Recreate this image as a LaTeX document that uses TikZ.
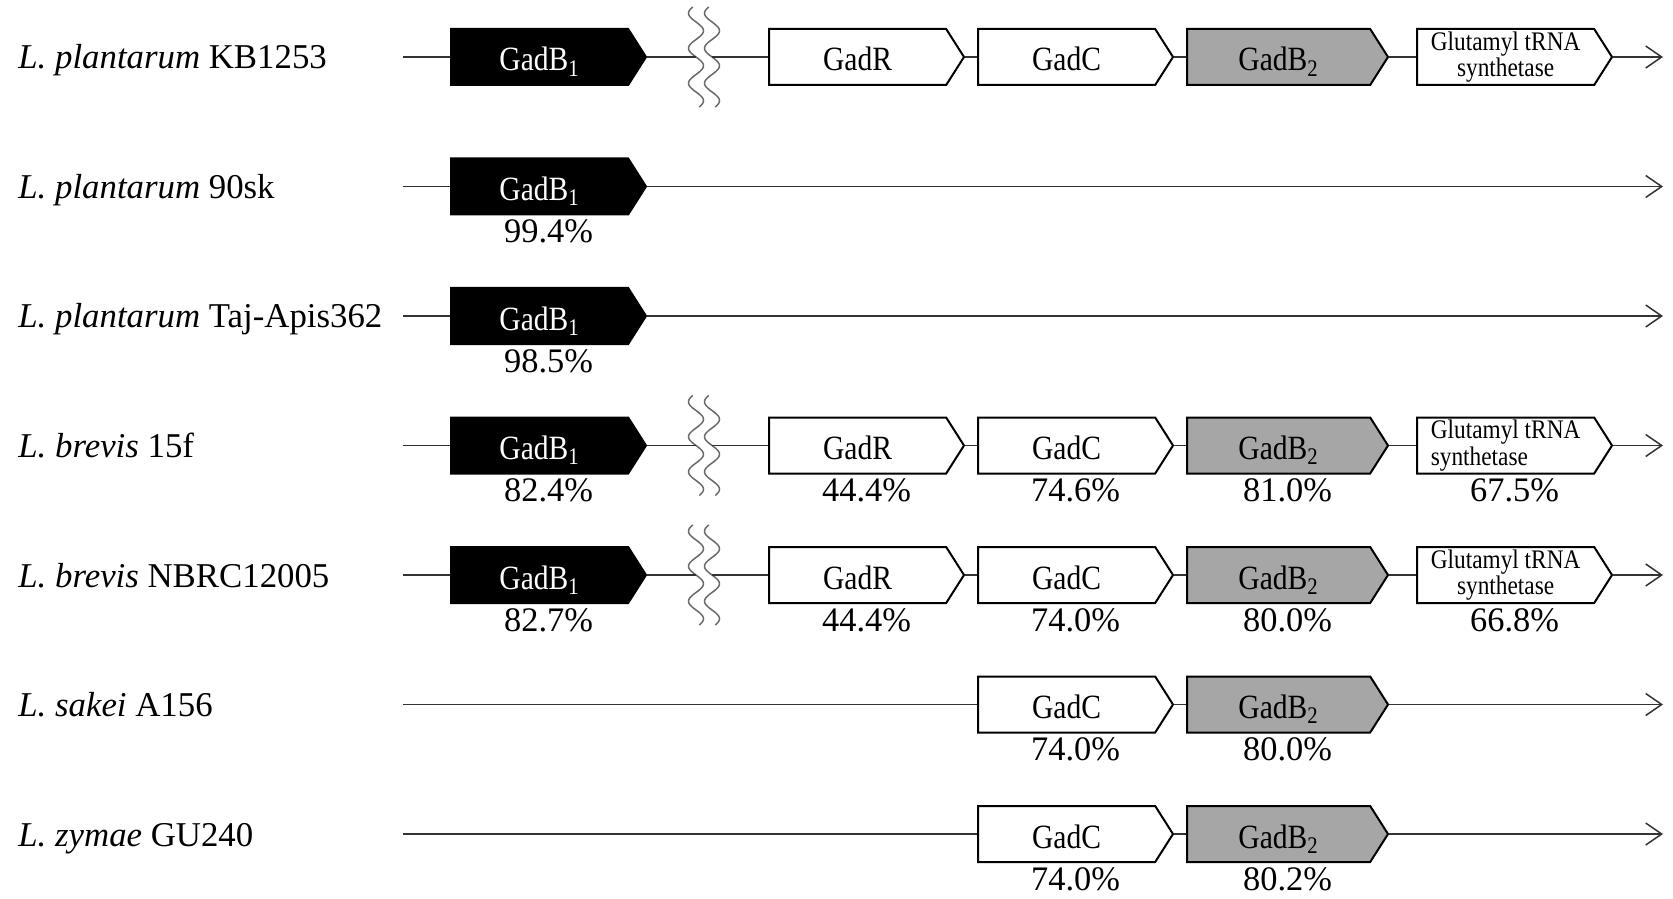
\documentclass[tikz,border=0pt]{standalone}
\usepackage{fontspec}
\setmainfont{Liberation Serif}
\newfontfamily\genefont[FakeStretch=0.87]{Liberation Serif}
\usepackage{tikz}
\usetikzlibrary{calc}
\usetikzlibrary{shapes.symbols}
\usetikzlibrary{arrows.meta}
\usetikzlibrary{positioning}

\definecolor{genegray}{RGB}{166,166,166}
\definecolor{breakgray}{RGB}{105,105,105}

\tikzset{
    genebox/.style={signal, signal to=east, signal from=nowhere, signal pointer angle=115,
        draw=black, line width=1pt, inner sep=0pt, minimum width=97.5pt, minimum height=28pt,
        anchor=west},
    gene/.style={genebox, text height=14pt, text depth=0pt, font=\genefont\fontsize{17}{17}\selectfont},
    genea/.style={gene, fill=black, text=white},
    geneb/.style={gene, fill=genegray, minimum width=100.5pt},
    genew/.style={gene, fill=white},
    glut/.style={genebox, fill=white, align=center, font=\genefont\fontsize{13.4}{10.5}\selectfont},
    strain/.style={anchor=base west, inner sep=0pt, font=\fontsize{17.4}{20}\selectfont},
    pct/.style={anchor=base, inner sep=0pt, font=\fontsize{17.2}{20}\selectfont},
    dnaline/.style={draw=black!80, line width=0.75pt},
    dnaend/.style={dnaline, -{Straight Barb[length=8pt,width=11pt]}}
}

\newcommand{\genebreak}[2]{%
    \foreach \dx in {696,712}
        \draw[breakgray, line width=0.75pt, domain=-50:50, samples=80, smooth, variable=\t]
            plot ({\dx+7.5*sin(\t*10.286)}, {#2+\t});
    \coordinate (#1l) at (696,#2);
    \coordinate (#1r) at (712,#2);
}

\begin{document}
\begin{tikzpicture}[x=0.5pt, y=-0.5pt]
            \useasboundingbox (0,0) rectangle (1673,898);

            % KB1253
            \node[strain] (n1) at (18,69) {\textit{L. plantarum} KB1253};
            \coordinate (s1) at (403,57);
            \coordinate (e1) at (1663,57);
            \node[genea] (a1) at (450,57) {GadB\textsubscript{1}};
            \genebreak{k1}{57}
            \node[genew] (r1) at (768,57) {GadR};
            \node[genew] (c1) at (977,57) {GadC};
            \node[geneb] (b1) at (1186,57) {GadB\textsubscript{2}};
            \node[glut] (t1) at (1416,57) {Glutamyl tRNA\\synthetase};
            \draw[dnaline] (s1) -- (a1.west) (a1.east) -- (k1l) (k1r) -- (r1.west)
                (r1.east) -- (c1.west) (c1.east) -- (b1.west) (b1.east) -- (t1.west);
            \draw[dnaend] (t1.east) -- (e1);

            % 90sk
            \node[strain] (n2) at (18,198.5) {\textit{L. plantarum} 90sk};
            \coordinate (s2) at (403,186.5);
            \coordinate (e2) at (1663,186.5);
            \node[genea] (a2) at (450,186.5) {GadB\textsubscript{1}};
            \node[pct] (p2a) at ($(a2.west)!.5!(a2.east)+(0,56)$) {99.4\%};
            \draw[dnaline] (s2) -- (a2.west);
            \draw[dnaend] (a2.east) -- (e2);

            % Taj-Apis362
            \node[strain] (n3) at (18,328) {\textit{L. plantarum} Taj-Apis362};
            \coordinate (s3) at (403,316);
            \coordinate (e3) at (1663,316);
            \node[genea] (a3) at (450,316) {GadB\textsubscript{1}};
            \node[pct] (p3a) at ($(a3.west)!.5!(a3.east)+(0,56)$) {98.5\%};
            \draw[dnaline] (s3) -- (a3.west);
            \draw[dnaend] (a3.east) -- (e3);

            % 15f
            \node[strain] (n4) at (18,457.5) {\textit{L. brevis} 15f};
            \coordinate (s4) at (403,445.5);
            \coordinate (e4) at (1663,445.5);
            \node[genea] (a4) at (450,445.5) {GadB\textsubscript{1}};
            \genebreak{k4}{445.5}
            \node[genew] (r4) at (768,445.5) {GadR};
            \node[genew] (c4) at (977,445.5) {GadC};
            \node[geneb] (b4) at (1186,445.5) {GadB\textsubscript{2}};
            \node[glut, align=left] (t4) at (1416,445.5) {Glutamyl tRNA\\synthetase};
            \node[pct] (p4a) at ($(a4.west)!.5!(a4.east)+(0,56)$) {82.4\%};
            \node[pct] (p4r) at ($(r4.west)!.5!(r4.east)+(0,56)$) {44.4\%};
            \node[pct] (p4c) at ($(c4.west)!.5!(c4.east)+(0,56)$) {74.6\%};
            \node[pct] (p4b) at ($(b4.west)!.5!(b4.east)+(0,56)$) {81.0\%};
            \node[pct] (p4t) at ($(t4.west)!.5!(t4.east)+(0,56)$) {67.5\%};
            \draw[dnaline] (s4) -- (a4.west) (a4.east) -- (k4l) (k4r) -- (r4.west)
                (r4.east) -- (c4.west) (c4.east) -- (b4.west) (b4.east) -- (t4.west);
            \draw[dnaend] (t4.east) -- (e4);

            % NBRC12005
            \node[strain] (n5) at (18,587) {\textit{L. brevis} NBRC12005};
            \coordinate (s5) at (403,575);
            \coordinate (e5) at (1663,575);
            \node[genea] (a5) at (450,575) {GadB\textsubscript{1}};
            \genebreak{k5}{575}
            \node[genew] (r5) at (768,575) {GadR};
            \node[genew] (c5) at (977,575) {GadC};
            \node[geneb] (b5) at (1186,575) {GadB\textsubscript{2}};
            \node[glut] (t5) at (1416,575) {Glutamyl tRNA\\synthetase};
            \node[pct] (p5a) at ($(a5.west)!.5!(a5.east)+(0,56)$) {82.7\%};
            \node[pct] (p5r) at ($(r5.west)!.5!(r5.east)+(0,56)$) {44.4\%};
            \node[pct] (p5c) at ($(c5.west)!.5!(c5.east)+(0,56)$) {74.0\%};
            \node[pct] (p5b) at ($(b5.west)!.5!(b5.east)+(0,56)$) {80.0\%};
            \node[pct] (p5t) at ($(t5.west)!.5!(t5.east)+(0,56)$) {66.8\%};
            \draw[dnaline] (s5) -- (a5.west) (a5.east) -- (k5l) (k5r) -- (r5.west)
                (r5.east) -- (c5.west) (c5.east) -- (b5.west) (b5.east) -- (t5.west);
            \draw[dnaend] (t5.east) -- (e5);

            % A156
            \node[strain] (n6) at (18,716.5) {\textit{L. sakei} A156};
            \coordinate (s6) at (403,704.5);
            \coordinate (e6) at (1663,704.5);
            \node[genew] (c6) at (977,704.5) {GadC};
            \node[geneb] (b6) at (1186,704.5) {GadB\textsubscript{2}};
            \node[pct] (p6c) at ($(c6.west)!.5!(c6.east)+(0,56)$) {74.0\%};
            \node[pct] (p6b) at ($(b6.west)!.5!(b6.east)+(0,56)$) {80.0\%};
            \draw[dnaline] (s6) -- (c6.west) (c6.east) -- (b6.west);
            \draw[dnaend] (b6.east) -- (e6);

            % GU240
            \node[strain] (n7) at (18,846) {\textit{L. zymae} GU240};
            \coordinate (s7) at (403,834);
            \coordinate (e7) at (1663,834);
            \node[genew] (c7) at (977,834) {GadC};
            \node[geneb] (b7) at (1186,834) {GadB\textsubscript{2}};
            \node[pct] (p7c) at ($(c7.west)!.5!(c7.east)+(0,56)$) {74.0\%};
            \node[pct] (p7b) at ($(b7.west)!.5!(b7.east)+(0,56)$) {80.2\%};
            \draw[dnaline] (s7) -- (c7.west) (c7.east) -- (b7.west);
            \draw[dnaend] (b7.east) -- (e7);
\end{tikzpicture}
\end{document}
